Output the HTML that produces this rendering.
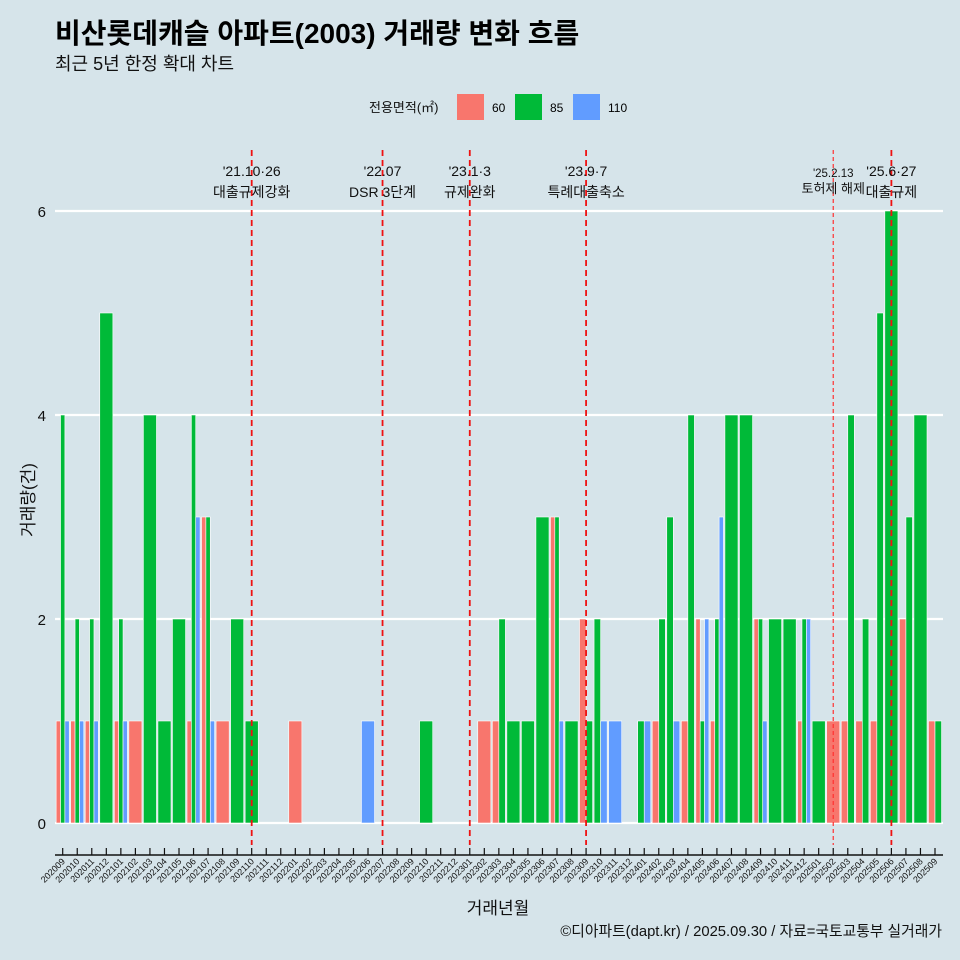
<!DOCTYPE html>
<html><head><meta charset="utf-8"><style>
body{margin:0;background:#d6e4ea;}
svg{display:block;font-family:"Liberation Sans","Noto Sans CJK KR",sans-serif;}
</style></head><body>
<svg id="chart" width="960" height="960" viewBox="0 0 960 960">
<rect x="0" y="0" width="960" height="960" fill="#d6e4ea"/>
<text x="55" y="43" font-size="28" font-weight="bold" fill="#000">비산롯데캐슬 아파트(2003) 거래량 변화 흐름</text>
<text x="55" y="70" font-size="18" fill="#111">최근 5년 한정 확대 차트</text>
<g>
<text x="369" y="112" font-size="13" fill="#111">전용면적(㎡)</text>
<rect x="457" y="94" width="27" height="26" fill="#f8766d"/>
<text x="492" y="112" font-size="12">60</text>
<rect x="515" y="94" width="27" height="26" fill="#00ba38"/>
<text x="550" y="112" font-size="12">85</text>
<rect x="573" y="94" width="27" height="26" fill="#619cff"/>
<text x="608" y="112" font-size="12">110</text>
</g>
<g id="grid"></g><g id="bars"></g><g id="events"></g><g id="axes"></g>
<text x="498" y="914" font-size="17" text-anchor="middle" fill="#111">거래년월</text>
<text transform="translate(34,500) rotate(-90)" font-size="17" text-anchor="middle" fill="#111">거래량(건)</text>
<text x="942" y="936" font-size="14.8" text-anchor="end" fill="#111">©디아파트(dapt.kr) / 2025.09.30 / 자료=국토교통부 실거래가</text>
</svg>
<script>
const months=["202009","202010","202011","202012","202101","202102","202103","202104","202105","202106","202107","202108","202109","202110","202111","202112","202201","202202","202203","202204","202205","202206","202207","202208","202209","202210","202211","202212","202301","202302","202303","202304","202305","202306","202307","202308","202309","202310","202311","202312","202401","202402","202403","202404","202405","202406","202407","202408","202409","202410","202411","202412","202501","202502","202503","202504","202505","202506","202507","202508","202509"];
const area60=[1,1,1,0,1,1,0,0,0,1,3,1,0,0,0,0,1,0,0,0,0,0,0,0,0,0,0,0,0,1,1,0,0,0,3,0,2,0,0,0,0,1,0,1,2,1,0,0,2,0,0,1,0,1,1,1,1,0,2,0,1];
const area85=[4,2,2,5,2,0,4,1,2,4,3,0,2,1,0,0,0,0,0,0,0,0,0,0,0,1,0,0,0,0,2,1,1,3,3,1,1,2,0,0,1,2,3,4,1,2,4,4,2,2,2,2,1,0,4,2,5,6,3,4,1];
const area110=[1,1,1,0,1,0,0,0,0,3,1,0,0,0,0,0,0,0,0,0,0,1,0,0,0,0,0,0,0,0,0,0,0,0,1,0,0,1,1,0,1,0,1,0,2,3,0,0,1,0,0,2,0,0,0,0,0,0,0,0,0];
const yTicks=[0,2,4,6];
const events=["202110","202207","202301","202309","202502","202506"];
const eventDates=["'21.10·26","'22.07","'23.1·3","'23.9·7","'25.2.13","'25.6·27"];
const eventNames=["대출규제강화","DSR 3단계","규제완화","특례대출축소","토허제 해제","대출규제"];

const NS="http://www.w3.org/2000/svg";
const x0=62.7,step=(935-62.7)/60,y0=823,unit=102;
const X=i=>x0+i*step, Y=v=>y0-v*unit;
function mk(tag,attrs,parent){const e=document.createElementNS(NS,tag);for(const k in attrs)e.setAttribute(k,attrs[k]);parent.appendChild(e);return e;}
const grid=document.getElementById('grid'),bars=document.getElementById('bars'),ev=document.getElementById('events'),axes=document.getElementById('axes');
yTicks.forEach(t=>{
 const l=mk('line',{x1:55,x2:943,y1:Y(t),y2:Y(t),stroke:'#fff','stroke-width':2.2},grid);
 
 
 const tx=mk('text',{x:46,y:Y(t)+6,'font-size':15,'text-anchor':'end',fill:'#111'},axes);
 tx.textContent=t;
 
 
});
const series=[[area60,'#f8766d','60'],[area85,'#00ba38','85'],[area110,'#619cff','110']];
months.forEach((m,i)=>{
 const present=series.filter(s=>s[0][i]>0);
 const n=present.length; if(!n)return;
 const w=step*0.9/n; let left=X(i)-step*0.45;
 present.forEach(s=>{
  const v=s[0][i];
  const r=mk('rect',{x:left,y:Y(v),width:w,height:v*unit,fill:s[1],stroke:'#fff','stroke-width':0.6},bars);
  
  
  left+=w;
 });
});
events.forEach((e,k)=>{
 const i=months.indexOf(e), x=X(i);
 const thin=e==='202502';
 const l=mk('line',{x1:x,x2:x,y1:150,y2:845,stroke:thin?'#ff3030':'#ee1111','stroke-width':thin?1.2:1.8,'stroke-dasharray':thin?'4,3':'6,4'},ev);
 
 
 const fs=thin?11.5:14;
 const t1=mk('text',{x:x,y:thin?177:176,'font-size':fs,'text-anchor':'middle',fill:'#111'},ev);
 t1.textContent=eventDates[k];
 
 
 const t2=mk('text',{x:x,y:thin?193:197,'font-size':thin?13:14,'text-anchor':'middle',fill:'#111'},ev);
 t2.textContent=eventNames[k];
 
 
});
const ax=mk('line',{x1:55,x2:943,y1:855,y2:855,stroke:'#111','stroke-width':1.5},axes);


months.forEach((m,i)=>{
 const x=X(i);
 const tk=mk('line',{x1:x,x2:x,y1:848,y2:855,stroke:'#111','stroke-width':1.2},axes);
 
 
 const t=mk('text',{x:x+3,y:862,'font-size':9,'text-anchor':'end',fill:'#111',transform:`rotate(-45 ${x+3} 862)`},axes);
 t.textContent=m;
 
 
});
</script>
</body></html>
